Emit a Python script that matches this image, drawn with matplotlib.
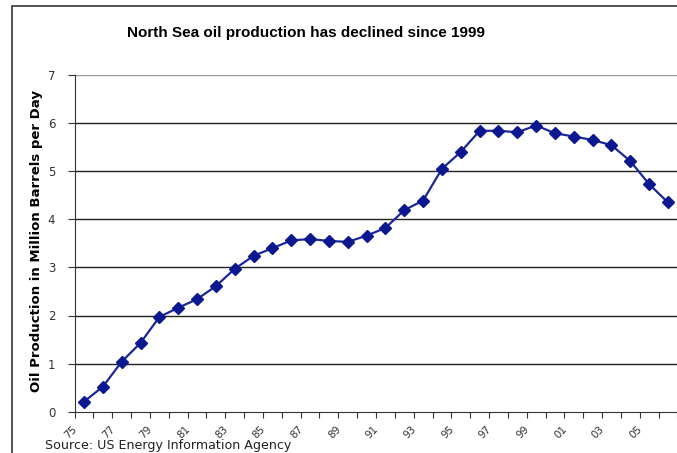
import matplotlib
matplotlib.use("Agg")
import matplotlib.pyplot as plt
import matplotlib.transforms as mtransforms
from matplotlib.patches import Rectangle

years = list(range(1975, 2007))
production = [0.21, 0.52, 1.04, 1.43, 1.97, 2.16, 2.34, 2.61, 2.97, 3.24,
              3.40, 3.56, 3.59, 3.55, 3.53, 3.66, 3.82, 4.19, 4.39, 5.05,
              5.40, 5.84, 5.84, 5.81, 5.95, 5.79, 5.72, 5.65, 5.54, 5.21,
              4.73, 4.35]
label_years = years[::2]
year_labels = ["%02d" % (y % 100) for y in label_years]
y_ticks = [0, 1, 2, 3, 4, 5, 6, 7]

fig = plt.figure(figsize=(6.77, 4.53), dpi=100)
W, H = 677, 453
ax = fig.add_axes([74.6 / W, 41.3 / H, (677.4 - 74.6) / W, (411.7 - 75) / H])

# frame around the whole picture (only left and top are visible)
fig.patches.append(Rectangle((12 / W, -0.1), 1.2, 1 - 6 / H + 0.1,
                             transform=fig.transFigure, fill=False,
                             edgecolor="#444444", linewidth=1.3))

ax.plot(years, production, color="#1b2799", linewidth=1.6, marker="D",
        markersize=6, markeredgecolor="#0c1890", markerfacecolor="#0c1890",
        zorder=3)

ax.set_xlim(1974.5, 2006.5)
ax.set_ylim(0, 7)

for v in y_ticks[1:-1]:
    ax.axhline(v, color="#222222", linewidth=1.0, zorder=1)
ax.axhline(7, color="#999999", linewidth=1.0, zorder=1)

for s in ["top", "right"]:
    ax.spines[s].set_visible(False)
ax.spines["left"].set_color("#333333")
ax.spines["bottom"].set_color("#333333")

# ticks at category boundaries, labels at category centres
ax.set_xticks([y - 0.5 for y in years] + [2006.5])
ax.set_xticklabels([])
ax.tick_params(axis="x", which="major", direction="out", length=4,
               color="#333333")
ax.set_xticks(label_years, minor=True)
ax.set_xticklabels(year_labels, minor=True, rotation=45, ha="right",
                   va="top", fontsize=7.5, color="#333333")
ax.tick_params(axis="x", which="minor", length=0, pad=9)
shift = mtransforms.ScaledTranslation(-5 / 100, 0, fig.dpi_scale_trans)
for lab in ax.xaxis.get_minorticklabels():
    lab.set_transform(lab.get_transform() + shift)

ax.set_yticks(y_ticks)
ax.set_yticklabels([str(v) for v in y_ticks], fontsize=8.5, color="#333333")
ax.tick_params(axis="y", direction="out", length=5, pad=9, color="#333333")

fig.text(306 / W, 1 - 33 / H, "North Sea oil production has declined since 1999",
         ha="center", va="center", fontsize=11, fontweight="bold",
         family="Liberation Sans")
fig.text(37 / W, 1 - 241.5 / H, "Oil Production in Million Barrels per Day",
         ha="center", va="center", rotation=90, fontsize=9.5,
         fontweight="bold")
fig.text(45 / W, 1 - 446 / H, "Source: US Energy Information Agency",
         ha="left", va="center", fontsize=9.1, color="#222222")

fig.savefig("out.png", dpi=100)
